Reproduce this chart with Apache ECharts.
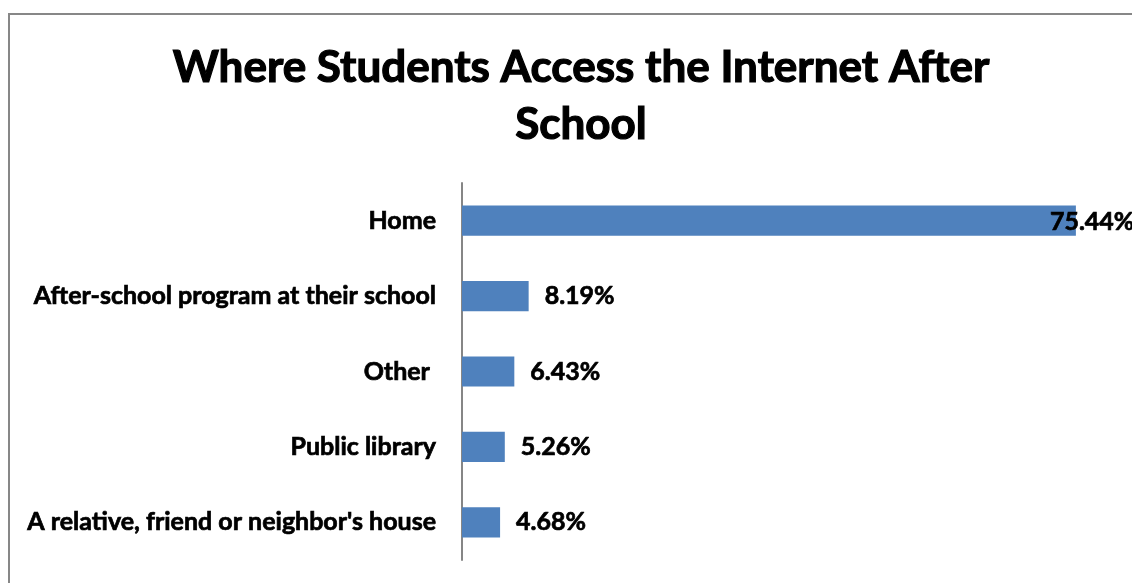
<!DOCTYPE html>
<html>
<head>
<meta charset="utf-8">
<script src="https://cdn.jsdelivr.net/npm/echarts@6/dist/echarts.min.js"></script>
<style>
  html, body { margin: 0; padding: 0; background: #fff; }
  #chart { width: 1132px; height: 583px; }
</style>
</head>
<body>
<div id="chart"></div>
<script>
// Where students go online after school (share of responses, %)
const categories = [
  'Home',
  'After-school program at their school',
  'Other ',
  'Public library',
  "A relative, friend or neighbor's house"
];
const shares = [75.44, 8.19, 6.43, 5.26, 4.68];
const titleText = 'Where Students Access the Internet After\nSchool';

const FONT = 'Lato, "Liberation Sans", sans-serif';

const chart = echarts.init(document.getElementById('chart'), null, { renderer: 'canvas' });

// The largest bar's label would run past the edge, so it is pulled back over the bar end.
const seriesData = shares.map((v, i) => {
  const item = { value: v };
  if (v === Math.max(...shares)) {
    item.label = { offset: [-42, 1] };
  }
  return item;
});

// Slight outline in the text colour gives the heavier bold look.
const heavy = { textBorderColor: '#000000', textBorderWidth: 0.7 };

chart.setOption({
  animation: false,
  backgroundColor: '#ffffff',
  graphic: [{
    type: 'rect',
    shape: { x: 9, y: 14, width: 1200, height: 700 },
    style: { fill: 'none', stroke: '#878787', lineWidth: 2 },
    silent: true,
    z: 0
  }],
  title: {
    text: titleText,
    left: 576,
    top: 34,
    textAlign: 'center',
    textStyle: Object.assign({
      fontFamily: FONT,
      fontWeight: 'bold',
      fontSize: 44,
      lineHeight: 57,
      color: '#000000'
    }, heavy, { textBorderWidth: 1.2 })
  },
  grid: {
    left: 462,
    right: 19,
    top: 183,
    bottom: 23,
    containLabel: false
  },
  xAxis: {
    type: 'value',
    min: 0,
    max: 80,
    show: false
  },
  yAxis: {
    type: 'category',
    data: categories,
    inverse: true,
    axisLine: { show: true, lineStyle: { color: '#868686', width: 2 } },
    axisTick: { show: false },
    axisLabel: Object.assign({
      margin: 26,
      fontFamily: FONT,
      fontWeight: 'bold',
      fontSize: 25,
      color: '#000000'
    }, heavy)
  },
  series: [{
    type: 'bar',
    data: seriesData,
    barCategoryGap: '60%',
    itemStyle: { color: '#4F81BD' },
    label: Object.assign({
      show: true,
      position: 'right',
      distance: 16,
      fontFamily: FONT,
      fontWeight: 'bold',
      fontSize: 25,
      color: '#000000',
      formatter: p => p.value.toFixed(2) + '%'
    }, heavy)
  }]
});
</script>
</body>
</html>
